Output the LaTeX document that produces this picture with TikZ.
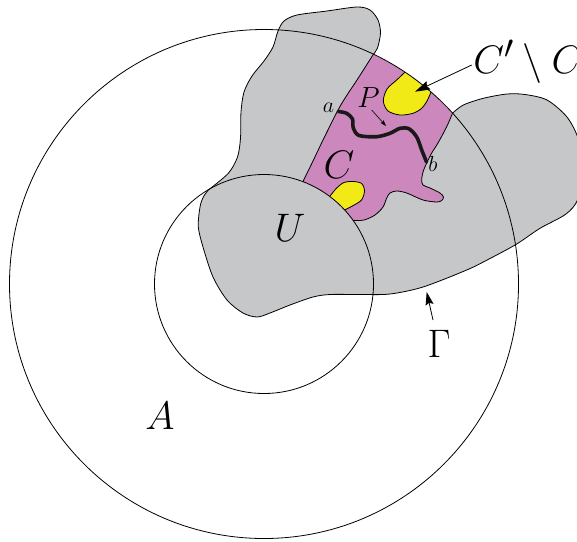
\documentclass[tikz,border=0pt]{standalone}
\usetikzlibrary{arrows.meta}
\definecolor{grayc}{RGB}{198,199,200}
\definecolor{pinkc}{RGB}{204,136,188}
\definecolor{yellc}{RGB}{242,234,22}
\begin{document}
\begin{tikzpicture}[x=1pt,y=-1pt,line join=round,
  outl/.style={draw=black,line width=0.8pt},
  lab/.style={inner sep=0pt,font=\Huge,scale=1.6},
  midlab/.style={inner sep=0pt,font=\Huge,scale=1.17},
  smlab/.style={inner sep=0pt,font=\Huge,scale=0.88},
  arrbig/.style={line width=0.8pt,-{Stealth[length=15pt,width=9pt,inset=2pt]}},
  arrmid/.style={line width=0.8pt,-{Stealth[length=13pt,width=8pt,inset=2pt]}},
  arrsm/.style={line width=0.6pt,-{Stealth[length=6pt,width=4pt,inset=1pt]}},
  pathP/.style={draw=black!90,line width=3.6pt,line cap=round}]
\useasboundingbox (0,0) rectangle (577,541);
\clip (0,0) rectangle (577,541);
% gray region
\fill[grayc] plot[smooth] coordinates {(452.6,113.1) (463.3,105) (483.3,98.3) (507,94) (525,94.5) (547,100) (566.7,116.7) (578,138) (584,168) (578,199) (566,214) (540,228.3) (516.7,244) (490,258.5) (466.7,270) (423,287) (390,294) (360,294.5) (330,294.5) (313,297) (290,305) (270,313) (257,317) (243,313) (227,300) (213,277) (203,247) (198.3,226.7) (200,207) (203.3,197) (208.3,190)}
  -- plot[smooth] coordinates {(208.3,190) (228.3,173.3) (237.5,157) (240.5,138) (241,112) (244,92) (252,76) (264,61) (273,47) (278,31) (284,21) (297,15) (327,11) (357,7) (370,10) (378,20) (380.5,33) (377.5,48) (373.4,54.2)} -- cycle;
% pink region
\fill[pinkc] plot[smooth] coordinates {(302.9,181.6) (313,161) (323,140) (338,110) (347,95) (357,80) (373.4,54.2)}
  -- (395.1,65.8) -- (415.4,79.4) -- (434.3,94.9)
  -- plot[smooth] coordinates {(452.6,113.1) (446.7,126.7) (438,143) (431.7,153) (426.7,163) (423,172) (421.7,180) (423,185) (430,188) (440,193) (443.5,197) (441.7,200.5) (436.7,202) (423,200) (406.7,193) (396.7,191) (390,193) (386.7,198) (383,207) (375,215) (364,220) (353.2,220.5)}
  -- (342.8,207.9) -- (331.4,197.7) -- (318.75,189.2) -- cycle;
% yellow regions
\fill[yellc] plot[smooth] coordinates {(405,72.1) (396.7,80) (387,89) (383.3,101) (388,111) (400,115) (413,113.3) (421.7,108.3) (427,101) (431,92)} -- cycle;
\fill[yellc] plot[smooth] coordinates {(330,196.1) (336.7,188) (344,182.5) (353.3,181.5) (361.7,183.5) (364.5,191) (361.5,200) (353.3,205.5) (345,209.8)} -- cycle;
% outlines
\draw[outl] plot[smooth] coordinates {(452.6,113.1) (463.3,105) (483.3,98.3) (507,94) (525,94.5) (547,100) (566.7,116.7) (578,138) (584,168) (578,199) (566,214) (540,228.3) (516.7,244) (490,258.5) (466.7,270) (423,287) (390,294) (360,294.5) (330,294.5) (313,297) (290,305) (270,313) (257,317) (243,313) (227,300) (213,277) (203,247) (198.3,226.7) (200,207) (203.3,197) (208.3,190)};
\draw[outl] plot[smooth] coordinates {(208.3,190) (228.3,173.3) (237.5,157) (240.5,138) (241,112) (244,92) (252,76) (264,61) (273,47) (278,31) (284,21) (297,15) (327,11) (357,7) (370,10) (378,20) (380.5,33) (377.5,48) (373.4,54.2)};
\draw[outl] plot[smooth] coordinates {(302.9,181.6) (313,161) (323,140) (338,110) (347,95) (357,80) (373.4,54.2)};
\draw[outl] plot[smooth] coordinates {(452.6,113.1) (446.7,126.7) (438,143) (431.7,153) (426.7,163) (423,172) (421.7,180) (423,185) (430,188) (440,193) (443.5,197) (441.7,200.5) (436.7,202) (423,200) (406.7,193) (396.7,191) (390,193) (386.7,198) (383,207) (375,215) (364,220) (353.2,220.5)};
\draw[outl] plot[smooth] coordinates {(405,72.1) (396.7,80) (387,89) (383.3,101) (388,111) (400,115) (413,113.3) (421.7,108.3) (427,101) (431,92)};
\draw[outl] plot[smooth] coordinates {(330,196.1) (336.7,188) (344,182.5) (353.3,181.5) (361.7,183.5) (364.5,191) (361.5,200) (353.3,205.5) (345,209.8)};
% circles
\coordinate (ctr) at (264,284);
\draw[outl] (ctr) circle[radius=254.5];
\draw[outl] (ctr) circle[radius=109.5];
% path P
\draw[pathP] plot[smooth] coordinates {(338.3,111.5) (346.7,113.3) (352.5,119) (353.3,128) (359,135.5) (376.7,136.7) (390,133.3) (400,128.3) (409,128.8) (416.7,137) (421.7,150) (426.5,162)};
% labels
\node[lab] (A) at (160,415.5) {$A$};
\node[lab] (U) at (290,227.5) {$U$};
\node[lab] (G) at (439,344) {$\Gamma$};
\node[lab] (C) at (339,165) {$C$};
\node[midlab] (P) at (368.5,97.5) {$P$};
\node[smlab] (la) at (328.5,108) {$a$};
\node[smlab] (lb) at (433,164) {$b$};
\node[lab,anchor=base west] (CC) at (473,73.3) {$C'\setminus C$};
% arrows
\coordinate (c1s) at (471.7,65);
\coordinate (c1e) at (415,91.7);
\draw[arrbig] (c1s) -- (c1e);
\coordinate (p1s) at (371.7,110);
\coordinate (p1e) at (386,126);
\draw[arrsm] (p1s) -- (p1e);
\coordinate (g1s) at (433,320);
\coordinate (g1e) at (426.7,292);
\draw[arrmid] (g1s) -- (g1e);
\end{tikzpicture}
\end{document}
